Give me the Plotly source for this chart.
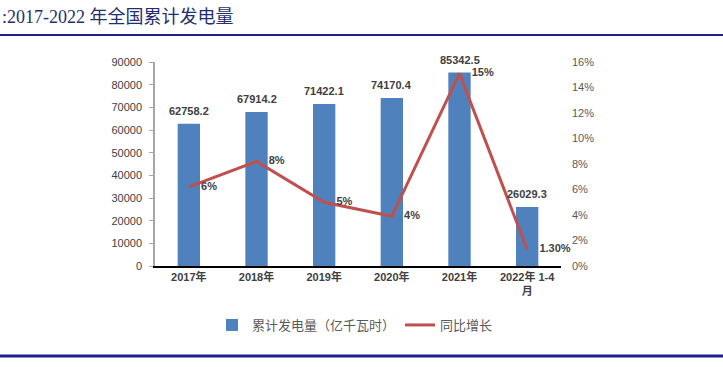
import plotly.graph_objects as go

categories = ["2017年", "2018年", "2019年", "2020年", "2021年", "2022年 1-4<br>月"]
generation = [62758.2, 67914.2, 71422.1, 74170.4, 85342.5, 26029.3]
growth = [6.2, 8.2, 5.0, 3.9, 15.1, 1.3]
growth_labels = ["6%", "8%", "5%", "4%", "15%", "1.30%"]
bar_labels = ["62758.2", "67914.2", "71422.1", "74170.4", "85342.5", "26029.3"]

W, H = 723, 367
L, R, T, B = 155, 561, 62, 266
pw, ph = R - L, B - T

def px(x):
    return (x - L) / pw

def py(y):
    return (B - y) / ph

fig = go.Figure()
fig.add_trace(go.Bar(
    x=categories, y=generation, name="累计发电量（亿千瓦时）",
    marker=dict(color="#4F81BD", line=dict(width=0)),
    width=0.33,
))
fig.add_trace(go.Scatter(
    x=categories, y=growth, name="同比增长", yaxis="y2",
    mode="lines+text", line=dict(color="#C0504D", width=3),
    text=["    <b>" + s + "</b>" for s in growth_labels], textposition="middle right",
    cliponaxis=False,
    textfont=dict(family="Liberation Sans, Arial", size=11, color="#404040"),
))

annotations = [
    dict(text=":2017-2022 年全国累计发电量", xref="paper", yref="paper", x=px(0), y=py(17),
         xanchor="left", yanchor="middle", showarrow=False,
         font=dict(family="Liberation Serif, Noto Sans CJK SC", size=18, color="#1F2F6F")),
]
for c, v, s in zip(categories, generation, bar_labels):
    annotations.append(dict(
        x=c, y=v, xref="x", yref="y", text="<b>" + s + "</b>", showarrow=False,
        yanchor="bottom", xanchor="center", yshift=5,
        font=dict(family="Liberation Sans, Arial", size=11, color="#404040"),
    ))

fig.update_layout(
    width=W, height=H,
    margin=dict(l=L, r=W - R, t=T, b=H - B, autoexpand=False),
    plot_bgcolor="white", paper_bgcolor="white",
    showlegend=True,
    bargap=0.67,
    legend=dict(orientation="h", x=px(355), xanchor="center", y=py(325), yanchor="middle",
                font=dict(family="Noto Sans CJK SC", size=13, color="#595959"),
                itemwidth=30, traceorder="normal"),
    xaxis=dict(showline=True, linecolor="black", linewidth=1.5, ticks="",
               tickfont=dict(family="Liberation Sans, Noto Sans CJK SC", size=11, color="#404040"),
               tickprefix="<b>", ticksuffix="</b>",
               showgrid=False),
    yaxis=dict(range=[0, 90000], dtick=10000, showgrid=False, showline=True,
               linecolor="#A6A6A6", linewidth=1.5, ticks="outside", ticklen=4,
               tickcolor="#A6A6A6", tickformat="d", ticklabelstandoff=5,
               tickfont=dict(family="Liberation Sans, Arial", size=11, color="#404040")),
    yaxis2=dict(range=[0, 16], dtick=2, overlaying="y", side="right", showgrid=False,
                showline=False, ticksuffix="%", ticks="", ticklabelstandoff=10,
                tickfont=dict(family="Liberation Sans, Arial", size=11, color="#595959")),
    shapes=[
        dict(type="line", xref="paper", yref="paper", x0=px(0), x1=px(723), y0=py(35), y1=py(35),
             line=dict(color="#1F1F8F", width=2)),
        dict(type="line", xref="paper", yref="paper", x0=px(0), x1=px(723), y0=py(356), y1=py(356),
             line=dict(color="#1F1F8F", width=3)),
    ],
    annotations=annotations,
)

fig.write_html("out.html", config={"displayModeBar": False},
               post_script="document.body.style.margin='0px';")
